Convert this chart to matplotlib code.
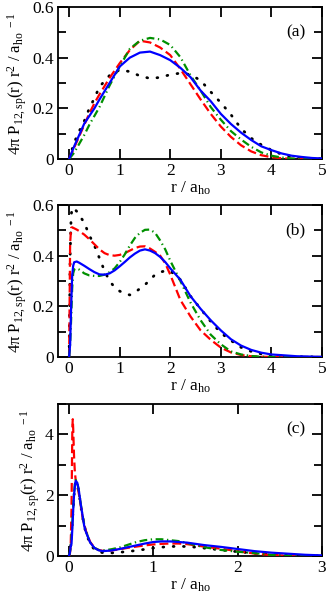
import matplotlib
matplotlib.use("Agg")
import matplotlib.pyplot as plt
from matplotlib.ticker import MultipleLocator, FuncFormatter

plt.rcParams['font.family'] = ['Liberation Serif', 'DejaVu Serif']
plt.rcParams['mathtext.fontset'] = 'custom'
plt.rcParams['mathtext.rm'] = 'Liberation Serif'
plt.rcParams['mathtext.it'] = 'Liberation Serif'
plt.rcParams['mathtext.bf'] = 'Liberation Serif:bold'

# ---------------- panel (a) ----------------
xa = [0, 0.1, 0.2, 0.3, 0.4, 0.5, 0.6, 0.8, 1.0, 1.2, 1.4, 1.6, 1.8, 2.0, 2.2, 2.4,
      2.6, 2.8, 3.0, 3.2, 3.4, 3.6, 3.8, 4.0, 4.2, 4.4, 4.6, 4.8, 5.0]
black_a = [0, 0.065, 0.11, 0.15, 0.2, 0.24, 0.285, 0.33, 0.352, 0.345, 0.328, 0.318, 0.322,
           0.333, 0.339, 0.333, 0.31, 0.265, 0.222, 0.175, 0.12, 0.082, 0.056, 0.035, 0.019,
           0.009, 0.004, 0.002, 0.001]
red_a = [0, 0.045, 0.09, 0.135, 0.18, 0.22, 0.255, 0.32, 0.378, 0.43, 0.467, 0.46, 0.44,
         0.41, 0.355, 0.295, 0.235, 0.178, 0.128, 0.087, 0.054, 0.03, 0.015, 0.007, 0.003,
         0.001, 0, 0, 0]
green_a = [0, 0.025, 0.06, 0.095, 0.135, 0.17, 0.205, 0.29, 0.365, 0.435, 0.467, 0.478,
           0.472, 0.45, 0.402, 0.33, 0.27, 0.205, 0.155, 0.11, 0.077, 0.048, 0.026, 0.013,
           0.006, 0.002, 0, 0, 0]
blue_a = [0, 0.05, 0.095, 0.14, 0.17, 0.2, 0.235, 0.3, 0.365, 0.4, 0.42, 0.424, 0.41, 0.39,
          0.36, 0.323, 0.27, 0.228, 0.178, 0.138, 0.104, 0.075, 0.05, 0.035, 0.022, 0.013,
          0.008, 0.004, 0.002]

# ---------------- panel (b) ----------------
xb = [0, 0.02, 0.04, 0.06, 0.08, 0.1, 0.15, 0.2, 0.3, 0.4, 0.5, 0.6, 0.7, 0.8, 0.9, 1.0,
      1.1, 1.2, 1.3, 1.4, 1.5, 1.6, 1.7, 1.8, 1.9, 2.0, 2.2, 2.4, 2.6, 2.8, 3.0, 3.2, 3.4,
      3.6, 3.8, 4.0, 4.5, 5.0]
black_b = [0, 0.4, 0.56, 0.585, 0.59, 0.585, 0.575, 0.56, 0.53, 0.48, 0.44, 0.39, 0.34, 0.30,
           0.275, 0.26, 0.25, 0.245, 0.255, 0.27, 0.285, 0.305, 0.325, 0.335, 0.34, 0.34,
           0.305, 0.24, 0.19, 0.14, 0.095, 0.065, 0.038, 0.022, 0.012, 0.006, 0.001, 0]
red_b = [0, 0.45, 0.51, 0.512, 0.51, 0.508, 0.503, 0.497, 0.483, 0.465, 0.445, 0.425, 0.41,
         0.402, 0.4, 0.403, 0.41, 0.42, 0.43, 0.436, 0.437, 0.428, 0.415, 0.40, 0.37, 0.325,
         0.225, 0.16, 0.105, 0.068, 0.037, 0.018, 0.008, 0.003, 0.001, 0, 0, 0]
green_b = [0, 0.05, 0.15, 0.27, 0.33, 0.345, 0.35, 0.345, 0.33, 0.322, 0.32, 0.32, 0.325,
           0.335, 0.35, 0.375, 0.405, 0.44, 0.47, 0.49, 0.502, 0.503, 0.49, 0.46, 0.425,
           0.38, 0.30, 0.215, 0.145, 0.088, 0.05, 0.022, 0.01, 0.004, 0.001, 0, 0, 0]
blue_b = [0, 0.05, 0.2, 0.32, 0.36, 0.374, 0.377, 0.372, 0.36, 0.347, 0.335, 0.326, 0.325,
          0.33, 0.342, 0.358, 0.375, 0.393, 0.408, 0.42, 0.425, 0.42, 0.41, 0.395, 0.375,
          0.35, 0.305, 0.24, 0.19, 0.145, 0.105, 0.07, 0.045, 0.028, 0.017, 0.01, 0.003,
          0.0005]

# ---------------- panel (c) ----------------
xc = [0, 0.01, 0.02, 0.03, 0.04, 0.045, 0.05, 0.06, 0.07, 0.08, 0.1, 0.12, 0.14, 0.16,
      0.18, 0.2, 0.25, 0.3, 0.35, 0.4, 0.5, 0.6, 0.7, 0.8, 0.9, 1.0, 1.1, 1.2, 1.3, 1.4,
      1.5, 1.6, 1.8, 2.0, 2.2, 2.4, 2.6, 2.8, 3.0]
black_c = [0, 0.1, 0.3, 0.6, 1.1, 1.35, 1.6, 2.0, 2.3, 2.45, 2.35, 2.05, 1.65, 1.3, 1.0,
           0.78, 0.4, 0.22, 0.14, 0.11, 0.1, 0.12, 0.15, 0.18, 0.22, 0.26, 0.29, 0.31, 0.32,
           0.31, 0.29, 0.26, 0.2, 0.14, 0.09, 0.05, 0.022, 0.009, 0.003]
red_c = [0, 0.05, 0.3, 1.5, 4.2, 4.5, 4.2, 3.3, 2.75, 2.5, 2.3, 2.0, 1.65, 1.3, 1.05, 0.83,
         0.47, 0.28, 0.2, 0.17, 0.18, 0.22, 0.27, 0.31, 0.35, 0.38, 0.4, 0.41, 0.41, 0.39,
         0.35, 0.31, 0.24, 0.16, 0.08, 0.03, 0.01, 0.003, 0]
green_c = [0, 0.1, 0.3, 0.6, 1.1, 1.35, 1.6, 2.05, 2.35, 2.5, 2.4, 2.1, 1.7, 1.35, 1.05,
           0.82, 0.45, 0.27, 0.2, 0.18, 0.22, 0.28, 0.37, 0.46, 0.52, 0.55, 0.55, 0.52, 0.49,
           0.43, 0.36, 0.29, 0.2, 0.14, 0.095, 0.035, 0.012, 0.004, 0]
blue_c = [0, 0.1, 0.3, 0.4, 0.9, 1.2, 1.5, 2.0, 2.3, 2.47, 2.4, 2.1, 1.7, 1.35, 1.0, 0.8,
          0.45, 0.27, 0.19, 0.16, 0.18, 0.23, 0.29, 0.35, 0.41, 0.46, 0.48, 0.48, 0.46, 0.44,
          0.4, 0.36, 0.3, 0.23, 0.16, 0.11, 0.075, 0.04, 0.02]

panel_labels = ['(a)', '(b)', '(c)']
xlabel = r'r / a$_{\mathrm{ho}}$'
ylabel = (r'4$\pi$ P$_{\mathrm{12,sp}}$(r) r$^{\mathrm{2}}$ / a$_{\mathrm{ho}}$'
          r'$^{\mathrm{\ -1}}$')

W, H = 327, 597
fig = plt.figure(figsize=(W / 100, H / 100), dpi=100)

boxes = [(58, 7, 322, 159), (58, 205, 322, 357), (58, 404, 322, 556)]
panels = [
    (xa, black_a, red_a, green_a, blue_a, (0, 0.6), 1, 0.2, 0.1),
    (xb, black_b, red_b, green_b, blue_b, (0, 0.6), 1, 0.2, 0.1),
    (xc, black_c, red_c, green_c, blue_c, (0, 5), 1, 2, 1),
]
xlims = [(-0.22, 5), (-0.22, 5), (-0.13, 3)]

for i, (box, p) in enumerate(zip(boxes, panels)):
    x0, y0, x1, y1 = box
    ax = fig.add_axes([x0 / W, 1 - y1 / H, (x1 - x0) / W, (y1 - y0) / H])
    x, bk, rd, gr, bl, yr, xmaj, ymaj, ymin = p
    ax.plot(x, bk, color='black', lw=2.0, linestyle=(0, (0.3, 3.4)),
            dash_capstyle='round', zorder=2)
    ax.plot(x, rd, color='#ff0000', lw=1.6, linestyle=(0, (4.0, 1.8)), zorder=3)
    ax.plot(x, gr, color='#009000', lw=1.6, linestyle=(0, (3.5, 1.6, 0.6, 1.6)), zorder=4)
    ax.plot(x, bl, color='#0000ff', lw=1.6, linestyle='-', zorder=5)
    ax.set_xlim(*xlims[i])
    ax.set_ylim(*yr)
    ax.xaxis.set_major_locator(MultipleLocator(xmaj))
    ax.yaxis.set_major_locator(MultipleLocator(ymaj))
    ax.yaxis.set_minor_locator(MultipleLocator(ymin))
    ax.tick_params(which='both', direction='in', top=True, right=True, width=1.3,
                   labelsize=12.5, colors='black')
    ax.tick_params(which='major', length=7, pad=3)
    ax.tick_params(which='minor', length=6)
    for s in ax.spines.values():
        s.set_linewidth(1.3)
    if i < 2:
        ax.yaxis.set_major_formatter(FuncFormatter(
            lambda v, pos: '0' if abs(v) < 1e-9 else f'{v:.1f}'))
    ax.set_xlabel(xlabel, fontsize=12.5, labelpad=0)
    ax.set_ylabel(ylabel, fontsize=12, labelpad=2)
    ax.text(0.9, 0.83, panel_labels[i], transform=ax.transAxes, fontsize=12.5,
            ha='center', va='center')

fig.savefig('out.png', dpi=100)
